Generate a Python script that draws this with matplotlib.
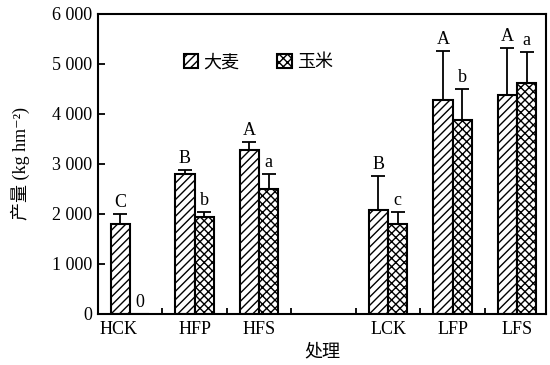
import numpy as np
import matplotlib.pyplot as plt
import matplotlib.transforms as mtransforms
from matplotlib.patches import Patch

plt.rcParams['font.family'] = ['Liberation Serif', 'Noto Sans CJK SC', 'DejaVu Serif']
plt.rcParams['hatch.linewidth'] = 1.0

treatments = ['HCK', 'HFP', 'HFS', '', 'LCK', 'LFP', 'LFS']
barley = [1800, 2790, 3270, np.nan, 2070, 4270, 4370]
barley_err = [190, 90, 170, np.nan, 690, 990, 950]
barley_sig = ['C', 'B', 'A', '', 'B', 'A', 'A']
maize = [0, 1940, 2500, np.nan, 1790, 3870, 4620]
maize_err = [0, 90, 290, np.nan, 250, 620, 620]
maize_sig = ['0', 'b', 'a', '', 'c', 'b', 'a']

fig = plt.figure(figsize=(5.5, 3.65), dpi=100)
ax = fig.add_axes([0.178, 0.140, 0.815, 0.822])

x = np.arange(len(treatments))
w = 0.3
ekw = dict(ecolor='black', elinewidth=1.3, capsize=5, capthick=1.3)
zeros = np.zeros(len(treatments))

ax.bar(x - w / 2, barley, w, color='white', edgecolor='black', linewidth=1.5,
       hatch='////', yerr=[zeros, barley_err], error_kw=ekw, zorder=2)
ax.bar(x + w / 2, maize, w, color='white', edgecolor='black', linewidth=1.5,
       hatch='xxxx', yerr=[zeros, maize_err], error_kw=ekw, zorder=2)

for i in range(len(treatments)):
    if barley_sig[i]:
        ax.text(x[i] - w / 2, barley[i] + barley_err[i] + 60, barley_sig[i],
                ha='center', va='bottom', fontsize=13)
    if maize_sig[i]:
        ax.text(x[i] + w / 2, maize[i] + maize_err[i] + 60, maize_sig[i],
                ha='center', va='bottom', fontsize=13)

ax.set_xlim(-0.5, 6.45)
ax.set_ylim(0, 6000)
ax.set_yticks(range(0, 6001, 1000))
ax.set_yticklabels(['0', '1 000', '2 000', '3 000', '4 000', '5 000', '6 000'])
ax.set_xticks(x)
ax.set_xticklabels(treatments)
ax.set_xticks(np.arange(0.5, 6, 1), minor=True)
ax.tick_params(axis='x', which='major', length=0, labelsize=13, pad=5)
ax.tick_params(axis='x', which='minor', direction='in', length=4, width=1.3)
ax.tick_params(axis='y', direction='in', length=5, width=1.3, labelsize=13, pad=4)
for s in ax.spines.values():
    s.set_linewidth(1.5)

# first label sits flush against the left spine
lbl = ax.get_xticklabels()[0]
lbl.set_transform(lbl.get_transform() +
                  mtransforms.ScaledTranslation(-12 / 100, 0, fig.dpi_scale_trans))

ax.set_xlabel('处理', fontsize=13, labelpad=4)
ax.set_ylabel('产量 (kg hm⁻²)', fontsize=13, labelpad=16)

handles = [Patch(facecolor='white', edgecolor='black', hatch='////', linewidth=1.5),
           Patch(facecolor='white', edgecolor='black', hatch='xxxx', linewidth=1.5)]
ax.legend(handles, ['大麦', '玉米'], ncol=2, frameon=False, fontsize=13,
          loc='upper left', bbox_to_anchor=(0.155, 0.92),
          handlelength=0.8, handleheight=0.8, handletextpad=0.3, columnspacing=2.1)

fig.savefig('out.png', dpi=100)
